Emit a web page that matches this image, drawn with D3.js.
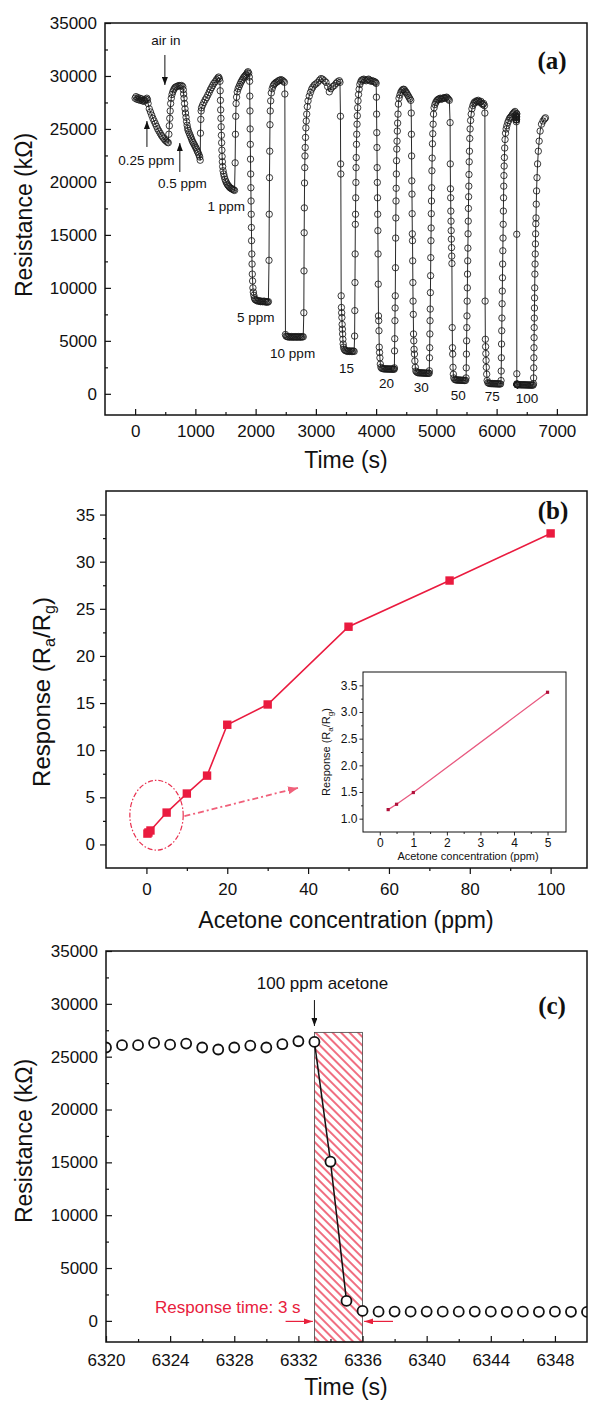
<!DOCTYPE html>
<html>
<head>
<meta charset="utf-8">
<script src="https://cdn.jsdelivr.net/npm/d3@7"></script>
<style>
  body { margin: 0; background: #fff; }
  svg { display: block; }
</style>
</head>
<body>
<svg id="chart" width="589" height="1405"></svg>
<script>
// ---- (a) resistance transients, one array per acetone pulse: [time (s), R (kOhm)] ----
const pulse025 = [[0,27900],[15,28050],[30,27800],[45,27950],[60,27750],[75,27900],[90,27700],[105,27850],[120,27650],[135,27750],[150,27600],[165,27700],[180,27800],[195,27900],[205,27750],[215,27400],[235,26900],[255,26600],[275,26300],[295,26000],[315,25750],[335,25500],[355,25250],[375,25000],[395,24800],[415,24600],[435,24400],[455,24250],[475,24100],[495,23950],[515,23850],[535,23750],[550,23700],
  [560,24500],[568,25300],[575,26000],[582,26700],[590,27400],[600,27900],[612,28250],[625,28500],[640,28700],[655,28850],[670,28950],[690,29000],[710,29050],[730,29100],[750,29050],[770,29100],[790,29000]];
const pulse05 = [[800,28700],[805,28300],[812,27900],[820,27400],[828,26900],[836,26500],[845,26100],[854,25700],[863,25350],[872,25050],[881,24850],[895,24650],[909,24450],[923,24250],[937,24050],[950,23850],[964,23700],[978,23550],[992,23400],[1005,23250],[1019,23100],[1032,22900],[1046,22750],[1060,22550],[1072,22350],[1080,22050],
  [1085,24600],[1090,25900],[1096,26700],[1102,27000],[1120,27250],[1141,27500],[1163,27750],[1185,27950],[1207,28200],[1229,28450],[1248,28700],[1268,28900],[1287,29100],[1306,29300],[1328,29450],[1350,29650],[1372,29800],[1385,29900],[1398,29750],[1408,29500]];
const pulse1 = [[1412,28600],[1416,27700],[1420,26800],[1424,26000],[1428,25200],[1432,24400],[1436,23700],[1440,23000],[1444,22400],[1448,21900],[1453,21450],[1460,21050],[1470,20750],[1480,20500],[1492,20250],[1505,20050],[1518,19900],[1532,19750],[1546,19650],[1560,19550],[1575,19450],[1590,19400],[1605,19350],[1620,19300],[1635,19250],[1650,19200],
  [1660,21800],[1665,24500],[1670,26200],[1676,27400],[1684,28000],[1695,28500],[1710,28800],[1725,29000],[1740,29200],[1755,29400],[1770,29550],[1785,29700],[1800,29850],[1815,29950],[1830,30050],[1846,30150],[1860,30300],[1873,30400],[1885,30250],[1895,29900]];
const pulse5 = [[1900,29500],[1903,28100],[1906,26700],[1909,25000],[1912,23550],[1915,22150],[1918,20750],[1921,19450],[1924,18200],[1927,16950],[1930,15700],[1933,14450],[1937,13200],[1941,12250],[1945,11300],[1950,10650],[1955,10000],[1962,9600],[1970,9300],[1980,9050],[1990,8900],[2005,8850],[2020,8800],[2035,8750],[2050,8800],[2065,8750],[2080,8700],[2095,8750],[2110,8700],[2125,8700],[2140,8750],[2155,8700],[2170,8650],[2185,8700],[2200,8650],[2212,8700],
  [2222,12600],[2226,16950],[2230,20400],[2234,22900],[2238,25400],[2243,26700],[2250,27650],[2260,28400],[2275,28800],[2290,29050],[2305,29200],[2320,29300],[2340,29400],[2360,29450],[2380,29550],[2400,29600],[2420,29650],[2440,29600],[2460,29500],[2478,29400]];
const pulse10 = [[2485,28300],[2495,5600],[2505,5450],[2520,5400],[2535,5400],[2550,5350],[2565,5400],[2580,5350],[2595,5400],[2610,5350],[2625,5380],[2640,5350],[2655,5400],[2670,5350],[2685,5380],[2700,5350],[2715,5400],[2730,5350],[2745,5380],[2760,5350],[2775,5400],[2790,5380],
  [2800,7650],[2803,11600],[2806,15200],[2809,17550],[2812,19900],[2815,21350],[2819,22450],[2823,23250],[2828,24200],[2834,25100],[2840,25750],[2848,26400],[2858,27100],[2870,27650],[2890,28100],[2910,28450],[2930,28750],[2950,28950],[2975,29150],[3000,29250],[3030,29400],[3060,29600],[3085,29750],[3110,29700],[3140,29550],[3168,29400],[3195,29000],[3223,28500],[3250,28800],[3280,29000],[3306,29100],[3335,29300],[3360,29450],[3389,29550],[3400,29400]];
const pulse15 = [[3408,26200],[3411,21700],[3414,20750],[3420,9250],[3424,8150],[3428,7650],[3432,7200],[3436,6550],[3440,6100],[3444,5650],[3448,5150],[3453,4700],[3460,4400],[3470,4200],[3485,4100],[3500,4050],[3515,4050],[3530,4000],[3545,4050],[3560,4000],[3575,4050],[3590,4000],[3605,4000],[3620,4050],[3635,4000],
  [3643,5450],[3646,7850],[3649,10500],[3652,13200],[3655,16000],[3658,16950],[3661,18500],[3664,19950],[3667,21350],[3670,22300],[3674,23550],[3678,24500],[3683,25450],[3688,26250],[3694,27000],[3700,27650],[3708,28250],[3718,28750],[3730,29200],[3745,29450],[3760,29600],[3778,29650],[3796,29700],[3815,29600],[3835,29550],[3855,29650],[3875,29700],[3895,29600],[3915,29500],[3935,29550],[3955,29500],[3975,29450],[3990,29400],[4000,29300]];
const pulse20 = [[4005,28000],[4008,26400],[4011,24650],[4014,23250],[4017,21350],[4020,19950],[4023,18500],[4026,16950],[4029,15400],[4032,13200],[4035,10350],[4039,7350],[4043,6900],[4047,5950],[4052,4400],[4057,3900],[4063,3400],[4070,2800],[4080,2500],[4095,2400],[4110,2380],[4125,2360],[4140,2350],[4155,2360],[4170,2340],[4185,2350],[4200,2330],[4215,2350],[4230,2330],[4245,2340],[4260,2320],[4275,2340],[4290,2330],[4300,2320],
  [4303,2450],[4306,4050],[4309,5200],[4312,6900],[4315,8100],[4318,9250],[4321,11900],[4324,14700],[4327,16600],[4330,18200],[4333,19400],[4336,20750],[4339,22000],[4343,23100],[4347,23850],[4352,24800],[4357,25550],[4363,26400],[4370,27350],[4380,27900],[4395,28200],[4410,28450],[4425,28600],[4440,28700],[4455,28750],[4470,28700],[4485,28550],[4500,28450],[4515,28300],[4530,28150],[4545,28000],[4560,27850],[4575,27700]];
const pulse30 = [[4583,26500],[4586,24500],[4589,22450],[4592,20100],[4595,18850],[4598,17000],[4601,15100],[4604,14450],[4607,12550],[4610,10500],[4613,8750],[4617,7500],[4621,5650],[4625,5000],[4630,4200],[4636,3750],[4643,3100],[4651,2500],[4660,2150],[4675,2050],[4690,2000],[4705,1980],[4720,1990],[4735,1970],[4750,1980],[4765,1960],[4780,1970],[4795,1950],[4810,1960],[4825,1950],[4840,1940],[4855,1950],[4870,1940],[4880,1940],
  [4883,2170],[4886,3400],[4889,4350],[4892,5650],[4895,6900],[4898,8000],[4901,9550],[4904,11150],[4907,12850],[4910,14450],[4913,15650],[4916,17000],[4919,18200],[4922,19450],[4926,21050],[4930,22250],[4935,23600],[4940,24550],[4946,25450],[4953,26400],[4962,27000],[4975,27300],[4990,27500],[5005,27650],[5020,27750],[5035,27800],[5050,27850],[5065,27900],[5080,27800],[5095,27850],[5110,27900],[5125,27950],[5140,27900],[5155,27950],[5170,28000],[5185,27900],[5200,27800],[5215,27700]];
const pulse50 = [[5228,25600],[5231,21700],[5234,19350],[5237,18500],[5240,17250],[5243,16300],[5246,15400],[5249,14600],[5252,13800],[5255,13000],[5258,12300],[5263,6250],[5267,4350],[5271,3750],[5276,2500],[5282,1850],[5290,1500],[5305,1350],[5320,1320],[5335,1300],[5350,1310],[5365,1290],[5380,1300],[5395,1280],[5410,1290],[5425,1270],[5440,1280],[5455,1270],[5470,1260],[5485,1270],
  [5493,1500],[5496,2450],[5499,3750],[5502,5000],[5505,6250],[5508,7350],[5511,8750],[5514,10000],[5517,11300],[5520,12550],[5523,13750],[5526,15100],[5529,16300],[5532,17500],[5535,18600],[5538,19600],[5541,20700],[5545,21900],[5549,22900],[5554,24100],[5560,25000],[5568,25800],[5578,26400],[5590,26900],[5605,27200],[5620,27400],[5635,27550],[5650,27500],[5665,27650],[5680,27600],[5695,27700],[5710,27600],[5725,27500],[5740,27600],[5755,27400],[5770,27300],[5785,27400],[5798,27200]];
const pulse75 = [[5805,26500],[5809,8750],[5813,5150],[5817,4450],[5821,3800],[5825,3150],[5829,2500],[5835,1850],[5843,1250],[5855,1050],[5870,1000],[5885,980],[5900,970],[5915,960],[5930,970],[5945,950],[5960,960],[5975,950],[5990,940],[6005,950],[6020,940],[6035,930],[6050,940],[6065,930],
  [6073,1250],[6076,2150],[6079,3400],[6082,4700],[6085,5950],[6088,7150],[6091,8500],[6094,9700],[6097,10950],[6100,12250],[6103,13500],[6106,14700],[6109,16000],[6112,17250],[6115,18500],[6118,19600],[6121,20600],[6125,21500],[6129,22300],[6134,23200],[6140,24000],[6148,24600],[6158,25000],[6170,25300],[6185,25600],[6200,25800],[6215,26000],[6230,26100],[6245,26200],[6260,26350],[6275,26450],[6290,26550],[6305,26650]];
// 100 ppm pulse: the 6320-6350 s window is the (c) data below, then the rest
const pulse100 = [[6365,860],[6380,860],[6395,850],[6410,850],[6425,850],[6440,840],[6455,850],[6470,840],[6485,840],[6500,830],[6515,840],[6530,830],[6545,830],[6560,820],[6575,830],[6590,820],[6605,820],
  [6612,950],[6614,1500],[6616,2450],[6618,3400],[6620,4350],[6622,5300],[6624,6250],[6626,7150],[6628,8100],[6630,9050],[6632,10000],[6635,11300],[6638,12250],[6641,13200],[6644,14150],[6647,15100],[6650,16050],[6654,16600],[6658,17900],[6663,19150],[6670,20400],[6680,21700],[6692,22900],[6706,23850],[6722,24800],[6745,25450],[6770,25750],[6795,25950],[6810,26050]];

// ---- (c) the 100 ppm step, 1 s sampling ----
const timeC = [6320,6321,6322,6323,6324,6325,6326,6327,6328,6329,6330,6331,6332,6333,6334,6335,6336,6337,6338,6339,6340,6341,6342,6343,6344,6345,6346,6347,6348,6349,6350];
const resistanceC = [25870,26090,26090,26300,26140,26240,25870,25680,25870,26050,25870,26180,26460,26400,15060,1890,945,870,880,870,880,870,870,880,870,860,870,860,870,860,850];
const dropTimes = [6333, 6334, 6335];
const responseWindow = [6333, 6336];
const windowTop = 27300;

// ---- (b) response vs concentration ----
const concentration = [0.25, 0.5, 1, 5, 10, 15, 20, 30, 50, 75, 100];
const response = [1.15, 1.27, 1.48, 3.38, 5.4, 7.3, 12.7, 14.85, 23.1, 28.0, 33.0];
const concInset = [0.25, 0.5, 1, 5];
const responseInset = [1.17, 1.27, 1.49, 3.37];

// ---- ticks ----
const ticksRes = [0, 5000, 10000, 15000, 20000, 25000, 30000, 35000];
const minorRes = [2500, 7500, 12500, 17500, 22500, 27500, 32500];
const ticksTimeA = [0, 1000, 2000, 3000, 4000, 5000, 6000, 7000];
const minorTimeA = [500, 1500, 2500, 3500, 4500, 5500, 6500];
const ticksConc = [0, 20, 40, 60, 80, 100];
const minorConc = [10, 30, 50, 70, 90];
const ticksResp = [0, 5, 10, 15, 20, 25, 30, 35];
const minorResp = [2.5, 7.5, 12.5, 17.5, 22.5, 27.5, 32.5];
const ticksTimeC = [6320, 6324, 6328, 6332, 6336, 6340, 6344, 6348];
const minorTimeC = [6322, 6326, 6330, 6334, 6338, 6342, 6346];
const ticksInsetX = [0, 1, 2, 3, 4, 5];
const minorInsetX = [0.5, 1.5, 2.5, 3.5, 4.5];
const ticksInsetY = [1.0, 1.5, 2.0, 2.5, 3.0, 3.5];
const minorInsetY = [1.25, 1.75, 2.25, 2.75, 3.25];

// ---- annotations (data coordinates) ----
const labelsA = [
  {text: "air in", t: 510, r: 33390},
  {text: "0.25 ppm", t: 187, r: 22070},
  {text: "0.5 ppm", t: 784, r: 19900},
  {text: "1 ppm", t: 1512, r: 17730},
  {text: "5 ppm", t: 2001, r: 7250},
  {text: "10 ppm", t: 2614, r: 3850},
  {text: "15", t: 3508, r: 2440},
  {text: "20", t: 4171, r: 1020},
  {text: "30", t: 4751, r: 640},
  {text: "50", t: 5363, r: -110},
  {text: "75", t: 5927, r: -210},
  {text: "100", t: 6506, r: -400}
];
const arrowsA = [
  {t: 494, from: 31980, to: 29150},
  {t: 196, from: 23300, to: 25750},
  {t: 742, from: 20940, to: 23670}
];

const FONT = "'Liberation Sans', Arial, Helvetica, sans-serif";
const SERIF = "'Liberation Serif', 'Times New Roman', serif";
const RED = "#ea1b3f";
const INK = "#111";

const svg = d3.select("#chart").attr("font-family", FONT);
svg.append("rect").attr("width", 589).attr("height", 1405).attr("fill", "#fff");
const defs = svg.append("defs");

function marker(id, color, w, h) {
  defs.append("marker").attr("id", id)
    .attr("viewBox", "0 0 10 10").attr("refX", 10).attr("refY", 5)
    .attr("markerUnits", "userSpaceOnUse").attr("preserveAspectRatio", "none")
    .attr("markerWidth", w).attr("markerHeight", h).attr("orient", "auto")
    .append("path").attr("d", "M0,0 L10,5 L0,10 Z").attr("fill", color);
}
marker("arrK", INK, 8, 6);
marker("arrR", "#e8203c", 9, 6);
marker("arrP", "#f0607a", 10, 8);

defs.append("pattern").attr("id", "hatch").attr("patternUnits", "userSpaceOnUse")
  .attr("width", 6).attr("height", 6).attr("patternTransform", "rotate(-45)")
  .append("line").attr("x1", 3).attr("y1", -1).attr("x2", 3).attr("y2", 7)
  .attr("stroke", "#e8203c").attr("stroke-width", 1.3);

function axes(g, x, y, o) {
  const [xl, xr] = x.range(), [yb, yt] = y.range();
  const dir = o.inward ? -1 : 1;
  const style = sel => {
    sel.select(".domain").remove();
    sel.selectAll(".tick line").attr("stroke", INK).attr("stroke-width", o.tw || 1.2);
    sel.selectAll("text").attr("fill", INK);
    sel.attr("font-family", FONT).attr("font-size", o.fs);
  };
  g.append("g").attr("transform", `translate(0,${yb})`)
    .call(d3.axisBottom(x).tickValues(o.xMinor).tickSize(dir * o.minor).tickFormat(""))
    .call(style);
  g.append("g").attr("transform", `translate(0,${yb})`)
    .call(d3.axisBottom(x).tickValues(o.xTicks).tickSize(dir * o.major).tickPadding(o.xPad).tickFormat(o.fx))
    .call(style);
  g.append("g").attr("transform", `translate(${xl},0)`)
    .call(d3.axisLeft(y).tickValues(o.yMinor).tickSize(dir * o.minor).tickFormat(""))
    .call(style);
  g.append("g").attr("transform", `translate(${xl},0)`)
    .call(d3.axisLeft(y).tickValues(o.yTicks).tickSize(dir * o.major).tickPadding(o.yPad).tickFormat(o.fy))
    .call(style);
  g.append("rect").attr("x", xl).attr("y", yt).attr("width", xr - xl).attr("height", yb - yt)
    .attr("fill", "none").attr("stroke", INK).attr("stroke-width", o.frame);
}

function yTitle(g, x, y, size) {
  return g.append("text").attr("transform", `translate(${x},${y}) rotate(-90)`)
    .attr("text-anchor", "middle").attr("font-size", size).attr("fill", INK);
}

// ================= panel (a) =================
const xA = d3.scaleLinear().domain([-500, 7500]).range([105, 587]);
const yA = d3.scaleLinear().domain([-2000, 35000]).range([415, 23]);
const gA = svg.append("g");
const seriesA = [].concat(pulse025, pulse05, pulse1, pulse5, pulse10, pulse15, pulse20, pulse30, pulse50, pulse75,
  timeC.map((t, i) => [t, resistanceC[i]]), pulse100);

gA.append("path").datum(seriesA)
  .attr("d", d3.line().x(d => xA(d[0])).y(d => yA(d[1])))
  .attr("fill", "none").attr("stroke", INK).attr("stroke-width", 0.9);
gA.append("g").selectAll("circle").data(seriesA).join("circle")
  .attr("cx", d => xA(d[0])).attr("cy", d => yA(d[1])).attr("r", 3.2)
  .attr("fill", "none").attr("stroke", "#1a1a1a").attr("stroke-width", 0.85);

axes(gA, xA, yA, {inward: true, major: 6, minor: 3, fs: 17, frame: 1.5,
  xTicks: ticksTimeA, xMinor: minorTimeA, yTicks: ticksRes, yMinor: minorRes,
  xPad: 10, yPad: 8, fx: d3.format("d"), fy: d3.format("d")});

gA.append("g").selectAll("text").data(labelsA).join("text")
  .attr("x", d => xA(d.t)).attr("y", d => yA(d.r)).attr("dy", "0.35em")
  .attr("text-anchor", "middle").attr("font-size", 13.5).attr("fill", INK)
  .text(d => d.text);
gA.append("g").selectAll("line").data(arrowsA).join("line")
  .attr("x1", d => xA(d.t)).attr("x2", d => xA(d.t))
  .attr("y1", d => yA(d.from)).attr("y2", d => yA(d.to))
  .attr("stroke", INK).attr("stroke-width", 1).attr("marker-end", "url(#arrK)");

yTitle(gA, 24, 215, 23).attr("dy", "0.35em").text("Resistance (k\u03A9)");
gA.append("text").attr("x", 346).attr("y", 468).attr("text-anchor", "middle")
  .attr("font-size", 23).attr("fill", INK).text("Time (s)");
gA.append("text").attr("x", 552).attr("y", 69).attr("text-anchor", "middle")
  .attr("font-family", SERIF).attr("font-weight", "bold").attr("font-size", 25).attr("fill", INK).text("(a)");

// ================= panel (b) =================
const xB = d3.scaleLinear().domain([-10, 109]).range([106, 587]);
const yB = d3.scaleLinear().domain([-2.5, 37.5]).range([868, 491]);
const gB = svg.append("g");
const ptsB = concentration.map((c, i) => [c, response[i]]);

axes(gB, xB, yB, {inward: false, major: 6, minor: 3, fs: 17, frame: 1.5,
  xTicks: ticksConc, xMinor: minorConc, yTicks: ticksResp, yMinor: minorResp,
  xPad: 9, yPad: 5, fx: d3.format("d"), fy: d3.format("d")});

// dashed ellipse around the low-concentration points and the arrow to the inset
gB.append("ellipse")
  .attr("cx", xB(2.5)).attr("cy", yB(3.1))
  .attr("rx", xB(2.5 + 6.6) - xB(2.5)).attr("ry", yB(3.1) - yB(3.1 + 3.7))
  .attr("fill", "none").attr("stroke", "#e8304f").attr("stroke-width", 1.2)
  .attr("stroke-dasharray", "5,2,1.5,2");
gB.append("line")
  .attr("x1", xB(9.4)).attr("y1", yB(3.0)).attr("x2", xB(37.5)).attr("y2", yB(6.0))
  .attr("stroke", "#f0607a").attr("stroke-width", 1.8).attr("stroke-dasharray", "6,3,2,3")
  .attr("marker-end", "url(#arrP)");

gB.append("path").datum(ptsB)
  .attr("d", d3.line().x(d => xB(d[0])).y(d => yB(d[1])))
  .attr("fill", "none").attr("stroke", RED).attr("stroke-width", 1.6);
gB.append("g").selectAll("rect").data(ptsB).join("rect")
  .attr("x", d => xB(d[0]) - 4.2).attr("y", d => yB(d[1]) - 4.2)
  .attr("width", 8.4).attr("height", 8.4).attr("fill", RED);

const tb = yTitle(gB, 42, 692, 24).attr("dy", "0.35em");
tb.append("tspan").text("Response (R");
tb.append("tspan").attr("font-size", 16).attr("dy", 5).text("a");
tb.append("tspan").attr("dy", -5).text("/R");
tb.append("tspan").attr("font-size", 16).attr("dy", 5).text("g");
tb.append("tspan").attr("dy", -5).text(")");
gB.append("text").attr("x", 346).attr("y", 928).attr("text-anchor", "middle")
  .attr("font-size", 23).attr("fill", INK).text("Acetone concentration (ppm)");
gB.append("text").attr("x", 553).attr("y", 519).attr("text-anchor", "middle")
  .attr("font-family", SERIF).attr("font-weight", "bold").attr("font-size", 25).attr("fill", INK).text("(b)");

// inset
const xI = d3.scaleLinear().domain([-0.5, 5.55]).range([363, 566]);
const yI = d3.scaleLinear().domain([0.75, 3.75]).range([832, 672]);
const gI = gB.append("g");
gI.append("rect").attr("x", 363).attr("y", 672).attr("width", 203).attr("height", 160).attr("fill", "#fff");
const ptsI = concInset.map((c, i) => [c, responseInset[i]]);
gI.append("path").datum(ptsI)
  .attr("d", d3.line().x(d => xI(d[0])).y(d => yI(d[1])))
  .attr("fill", "none").attr("stroke", "#e85a80").attr("stroke-width", 1.3);
gI.append("g").selectAll("rect").data(ptsI).join("rect")
  .attr("x", d => xI(d[0]) - 1.6).attr("y", d => yI(d[1]) - 1.6)
  .attr("width", 3.2).attr("height", 3.2).attr("fill", "#b0103a");
axes(gI, xI, yI, {inward: false, major: 3.5, minor: 2, fs: 12, frame: 1, tw: 0.9,
  xTicks: ticksInsetX, xMinor: minorInsetX, yTicks: ticksInsetY, yMinor: minorInsetY,
  xPad: 3, yPad: 2, fx: d3.format("d"), fy: d3.format(".1f")});
gI.append("text").attr("x", 468).attr("y", 860).attr("text-anchor", "middle")
  .attr("font-size", 11).attr("fill", INK).text("Acetone concentration (ppm)");
const ti = yTitle(gI, 326, 752, 11).attr("dy", "0.35em");
ti.append("tspan").text("Response (R");
ti.append("tspan").attr("font-size", 8).attr("dy", 3).text("a");
ti.append("tspan").attr("dy", -3).text("/R");
ti.append("tspan").attr("font-size", 8).attr("dy", 3).text("g");
ti.append("tspan").attr("dy", -3).text(")");

// ================= panel (c) =================
const xC = d3.scaleLinear().domain([6320, 6350]).range([106, 587]);
const yC = d3.scaleLinear().domain([-2000, 35000]).range([1342, 951]);
const gC = svg.append("g");
defs.append("clipPath").attr("id", "clipC").append("rect")
  .attr("x", 106).attr("y", 951).attr("width", 481).attr("height", 391);
const ptsC = timeC.map((t, i) => [t, resistanceC[i]]);

gC.append("rect")
  .attr("x", xC(responseWindow[0])).attr("y", yC(windowTop))
  .attr("width", xC(responseWindow[1]) - xC(responseWindow[0]))
  .attr("height", yC(-2000) - yC(windowTop))
  .attr("fill", "url(#hatch)").attr("stroke", "#444").attr("stroke-width", 0.8);

const plotC = gC.append("g").attr("clip-path", "url(#clipC)");
plotC.append("path").datum(ptsC.filter(d => dropTimes.includes(d[0])))
  .attr("d", d3.line().x(d => xC(d[0])).y(d => yC(d[1])))
  .attr("fill", "none").attr("stroke", INK).attr("stroke-width", 1.5);
plotC.append("g").selectAll("circle").data(ptsC).join("circle")
  .attr("cx", d => xC(d[0])).attr("cy", d => yC(d[1])).attr("r", 5)
  .attr("fill", "#fff").attr("stroke", INK).attr("stroke-width", 1.8);

axes(gC, xC, yC, {inward: true, major: 6, minor: 3, fs: 17, frame: 1.5,
  xTicks: ticksTimeC, xMinor: minorTimeC, yTicks: ticksRes, yMinor: minorRes,
  xPad: 12, yPad: 8, fx: d3.format("d"), fy: d3.format("d")});

gC.append("text").attr("x", xC(6333.5)).attr("y", yC(31970)).attr("dy", "0.35em")
  .attr("text-anchor", "middle").attr("font-size", 17).attr("fill", INK).text("100 ppm acetone");
gC.append("line").attr("x1", xC(6333)).attr("x2", xC(6333)).attr("y1", yC(30360)).attr("y2", yC(27900))
  .attr("stroke", INK).attr("stroke-width", 1).attr("marker-end", "url(#arrK)");
gC.append("text").attr("x", xC(6327.6)).attr("y", yC(1350)).attr("dy", "0.35em")
  .attr("text-anchor", "middle").attr("font-size", 17).attr("fill", "#e8203c").text("Response time: 3 s");
gC.append("line").attr("x1", xC(6331.2)).attr("x2", xC(6332.9)).attr("y1", yC(-50)).attr("y2", yC(-50))
  .attr("stroke", "#e8203c").attr("stroke-width", 1.2).attr("marker-end", "url(#arrR)");
gC.append("line").attr("x1", xC(6337.9)).attr("x2", xC(6336.1)).attr("y1", yC(-50)).attr("y2", yC(-50))
  .attr("stroke", "#e8203c").attr("stroke-width", 1.2).attr("marker-end", "url(#arrR)");

yTitle(gC, 24, 1141, 23).attr("dy", "0.35em").text("Resistance (k\u03A9)");
gC.append("text").attr("x", 346).attr("y", 1395).attr("text-anchor", "middle")
  .attr("font-size", 23).attr("fill", INK).text("Time (s)");
gC.append("text").attr("x", 552).attr("y", 1014).attr("text-anchor", "middle")
  .attr("font-family", SERIF).attr("font-weight", "bold").attr("font-size", 25).attr("fill", INK).text("(c)");
</script>
</body>
</html>
